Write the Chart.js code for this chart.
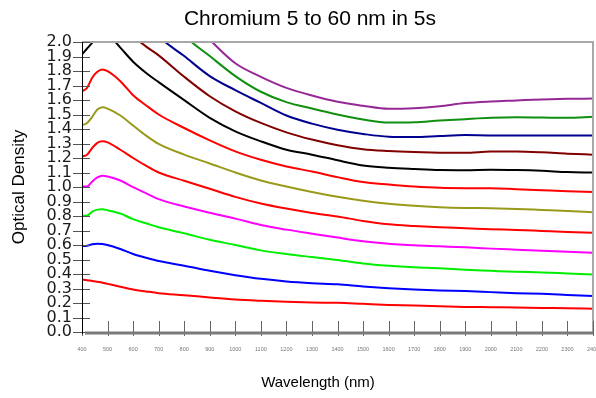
<!DOCTYPE html>
<html>
<head>
<meta charset="utf-8">
<script src="https://cdn.jsdelivr.net/npm/chart.js@4/dist/chart.umd.min.js"></script>
<style>
  body { margin: 0; background: #fff; }
</style>
</head>
<body>
<canvas id="odChart" width="596" height="398"></canvas>
<script>
// wavelengths (nm) the curves were read at
const wavelengths = [400, 420, 440, 460, 480, 500, 550, 600, 650, 700, 800, 900, 1000, 1100, 1200, 1300, 1400, 1500, 1600, 1700, 1800, 1900, 2000, 2100, 2200, 2300, 2400];

// optical density per film thickness (values above 2.0 run off the top of the plot)
const od5  = [0.363, 0.357, 0.352, 0.346, 0.340, 0.332, 0.312, 0.293, 0.280, 0.268, 0.254, 0.238, 0.224, 0.215, 0.208, 0.203, 0.201, 0.194, 0.187, 0.183, 0.178, 0.173, 0.171, 0.169, 0.166, 0.164, 0.160];
const od10 = [0.593, 0.595, 0.605, 0.609, 0.607, 0.600, 0.572, 0.538, 0.512, 0.489, 0.457, 0.422, 0.392, 0.367, 0.349, 0.337, 0.329, 0.314, 0.302, 0.293, 0.286, 0.282, 0.275, 0.268, 0.263, 0.256, 0.249];
const od15 = [0.801, 0.803, 0.830, 0.844, 0.847, 0.840, 0.817, 0.778, 0.750, 0.722, 0.681, 0.636, 0.600, 0.563, 0.538, 0.517, 0.497, 0.473, 0.457, 0.446, 0.439, 0.429, 0.422, 0.415, 0.411, 0.404, 0.397];
const od20 = [1.003, 1.003, 1.038, 1.066, 1.078, 1.073, 1.045, 0.999, 0.958, 0.916, 0.865, 0.822, 0.782, 0.738, 0.706, 0.678, 0.651, 0.626, 0.609, 0.598, 0.591, 0.584, 0.575, 0.568, 0.561, 0.554, 0.547];
const od25 = [1.211, 1.223, 1.269, 1.304, 1.315, 1.308, 1.257, 1.200, 1.147, 1.100, 1.043, 0.988, 0.932, 0.886, 0.851, 0.821, 0.797, 0.766, 0.743, 0.731, 0.722, 0.716, 0.709, 0.704, 0.697, 0.690, 0.685];
const od30 = [1.426, 1.442, 1.484, 1.534, 1.550, 1.541, 1.493, 1.424, 1.356, 1.297, 1.223, 1.162, 1.100, 1.045, 1.003, 0.965, 0.932, 0.905, 0.884, 0.870, 0.861, 0.856, 0.854, 0.849, 0.842, 0.835, 0.826];
const od35 = [1.661, 1.684, 1.754, 1.795, 1.811, 1.799, 1.730, 1.633, 1.564, 1.500, 1.407, 1.322, 1.246, 1.188, 1.142, 1.107, 1.068, 1.034, 1.017, 1.003, 0.994, 0.992, 0.992, 0.985, 0.978, 0.971, 0.965];
const od40 = [1.915, 1.955, 1.995, 2.040, 2.065, 2.055, 1.961, 1.864, 1.788, 1.723, 1.599, 1.477, 1.384, 1.315, 1.257, 1.223, 1.184, 1.149, 1.133, 1.124, 1.117, 1.116, 1.119, 1.117, 1.112, 1.103, 1.100];
const od45 = [2.150, 2.200, 2.260, 2.300, 2.320, 2.300, 2.190, 2.045, 1.970, 1.908, 1.760, 1.626, 1.522, 1.442, 1.377, 1.327, 1.288, 1.260, 1.248, 1.241, 1.237, 1.236, 1.244, 1.244, 1.239, 1.230, 1.223];
const od50 = [2.350, 2.400, 2.450, 2.500, 2.520, 2.500, 2.400, 2.270, 2.150, 2.040, 1.903, 1.765, 1.668, 1.580, 1.493, 1.437, 1.395, 1.366, 1.347, 1.345, 1.352, 1.358, 1.356, 1.356, 1.356, 1.356, 1.356];
const od55 = [2.550, 2.600, 2.650, 2.700, 2.720, 2.700, 2.600, 2.500, 2.380, 2.260, 2.045, 1.903, 1.765, 1.657, 1.585, 1.541, 1.500, 1.465, 1.444, 1.446, 1.458, 1.468, 1.477, 1.481, 1.479, 1.477, 1.484];
const od60 = [2.750, 2.800, 2.850, 2.900, 2.920, 2.900, 2.800, 2.700, 2.600, 2.500, 2.200, 2.016, 1.853, 1.760, 1.684, 1.631, 1.588, 1.560, 1.539, 1.543, 1.557, 1.579, 1.590, 1.597, 1.604, 1.608, 1.610];

const thicknesses = ["5 nm", "10 nm", "15 nm", "20 nm", "25 nm", "30 nm", "35 nm", "40 nm", "45 nm", "50 nm", "55 nm", "60 nm"];
const allSeries = [od5, od10, od15, od20, od25, od30, od35, od40, od45, od50, od55, od60];
const lineColors = ["#ff0000", "#0000ff", "#00ee00", "#ff00ff", "#ff0000", "#9a9a1a", "#ff0000", "#000000", "#800000", "#000090", "#108f10", "#962896"];

const yTickLabels = ["0.0", "0.1", "0.2", "0.3", "0.4", "0.5", "0.6", "0.7", "0.8", "0.9", "1.0", "1.1", "1.2", "1.3", "1.4", "1.5", "1.6", "1.7", "1.8", "1.9", "2.0"];

const chartTitle = "Chromium 5 to 60 nm in 5s";
const xTitle = "Wavelength (nm)";
const yTitle = "Optical Density";

// frame, axis lines, tick marks that cross the axes, plus the titles
const axisDecor = {
  id: 'axisDecor',
  afterDatasetsDraw(chart) {
    const {ctx, chartArea: a, scales: {x, y}} = chart;
    ctx.save();

    // light frame on top and right
    ctx.strokeStyle = '#a8a8a8';
    ctx.lineWidth = 2;
    ctx.beginPath();
    ctx.moveTo(a.left, a.top);
    ctx.lineTo(a.right, a.top);
    ctx.lineTo(a.right, a.bottom);
    ctx.stroke();

    // y ticks
    ctx.strokeStyle = '#555';
    ctx.lineWidth = 1;
    y.ticks.forEach(t => {
      const py = Math.round(y.getPixelForValue(t.value)) + 0.5;
      ctx.beginPath();
      ctx.moveTo(a.left - 9, py);
      ctx.lineTo(a.left + 8, py);
      ctx.stroke();
    });

    // x ticks
    ctx.strokeStyle = '#666';
    x.ticks.forEach(t => {
      const px = Math.round(x.getPixelForValue(t.value)) + 0.5;
      ctx.beginPath();
      ctx.moveTo(px, a.bottom - 11);
      ctx.lineTo(px, a.bottom + 4);
      ctx.stroke();
    });

    // bottom axis, thick grey
    ctx.strokeStyle = '#7a7a7a';
    ctx.lineWidth = 3;
    ctx.beginPath();
    ctx.moveTo(a.left + 3, a.bottom + 1);
    ctx.lineTo(a.right, a.bottom + 1);
    ctx.stroke();

    // left axis, black
    ctx.strokeStyle = '#000';
    ctx.lineWidth = 1;
    ctx.beginPath();
    ctx.moveTo(a.left + 0.5, a.top);
    ctx.lineTo(a.left + 0.5, a.bottom + 2);
    ctx.stroke();

    // titles
    ctx.fillStyle = '#000';
    ctx.textAlign = 'center';
    ctx.textBaseline = 'middle';
    ctx.font = '21px "Liberation Sans", Arial, sans-serif';
    ctx.fillText(chartTitle, 310, 19);
    ctx.font = '15px "Liberation Sans", Arial, sans-serif';
    ctx.fillText(xTitle, 318, 383);
    ctx.restore();
  }
};

const ctx = document.getElementById('odChart').getContext('2d');
const odChart = new Chart(ctx, {
  type: 'line',
  data: {
    datasets: allSeries.map((series, i) => ({
      label: thicknesses[i],
      data: wavelengths.map((w, j) => ({x: w, y: series[j]})),
      borderColor: lineColors[i],
      borderWidth: 2,
      pointRadius: 0,
      fill: false,
      cubicInterpolationMode: 'monotone'
    }))
  },
  options: {
    responsive: false,
    animation: false,
    layout: { padding: { top: 42, right: 3, left: 0, bottom: 0 } },
    plugins: {
      legend: { display: false },
      tooltip: { enabled: false },
      title: { display: false }
    },
    scales: {
      x: {
        type: 'linear',
        min: 400,
        max: 2400,
        grid: { display: false, drawTicks: false },
        border: { display: false },
        ticks: {
          stepSize: 100,
          maxTicksLimit: 100,
          autoSkip: false,
          maxRotation: 0,
          padding: 14,
          color: '#777',
          font: { family: '"Liberation Sans", Arial, sans-serif', size: 5.5 },
          callback: (value) => String(value)
        },
        afterFit(scale) {
          scale.height = 66;
          scale.paddingLeft = 0;
          scale.paddingRight = 0;
        }
      },
      y: {
        min: 0,
        max: 2,
        grid: { display: false, drawTicks: false },
        border: { display: false },
        title: {
          display: true,
          text: yTitle,
          color: '#000',
          padding: { top: 9, bottom: 0 },
          font: { family: '"Liberation Sans", Arial, sans-serif', size: 17 }
        },
        ticks: {
          stepSize: 0.1,
          maxTicksLimit: 100,
          autoSkip: false,
          padding: 10,
          color: '#1a1a1a',
          font: { family: '"DejaVu Sans", sans-serif', size: 16, lineHeight: 1 },
          callback: (value) => yTickLabels[Math.round(value * 10)]
        },
        afterFit(scale) {
          scale.width = 82;
          scale.paddingTop = 0;
          scale.paddingBottom = 0;
        }
      }
    }
  },
  plugins: [axisDecor]
});
</script>
</body>
</html>
